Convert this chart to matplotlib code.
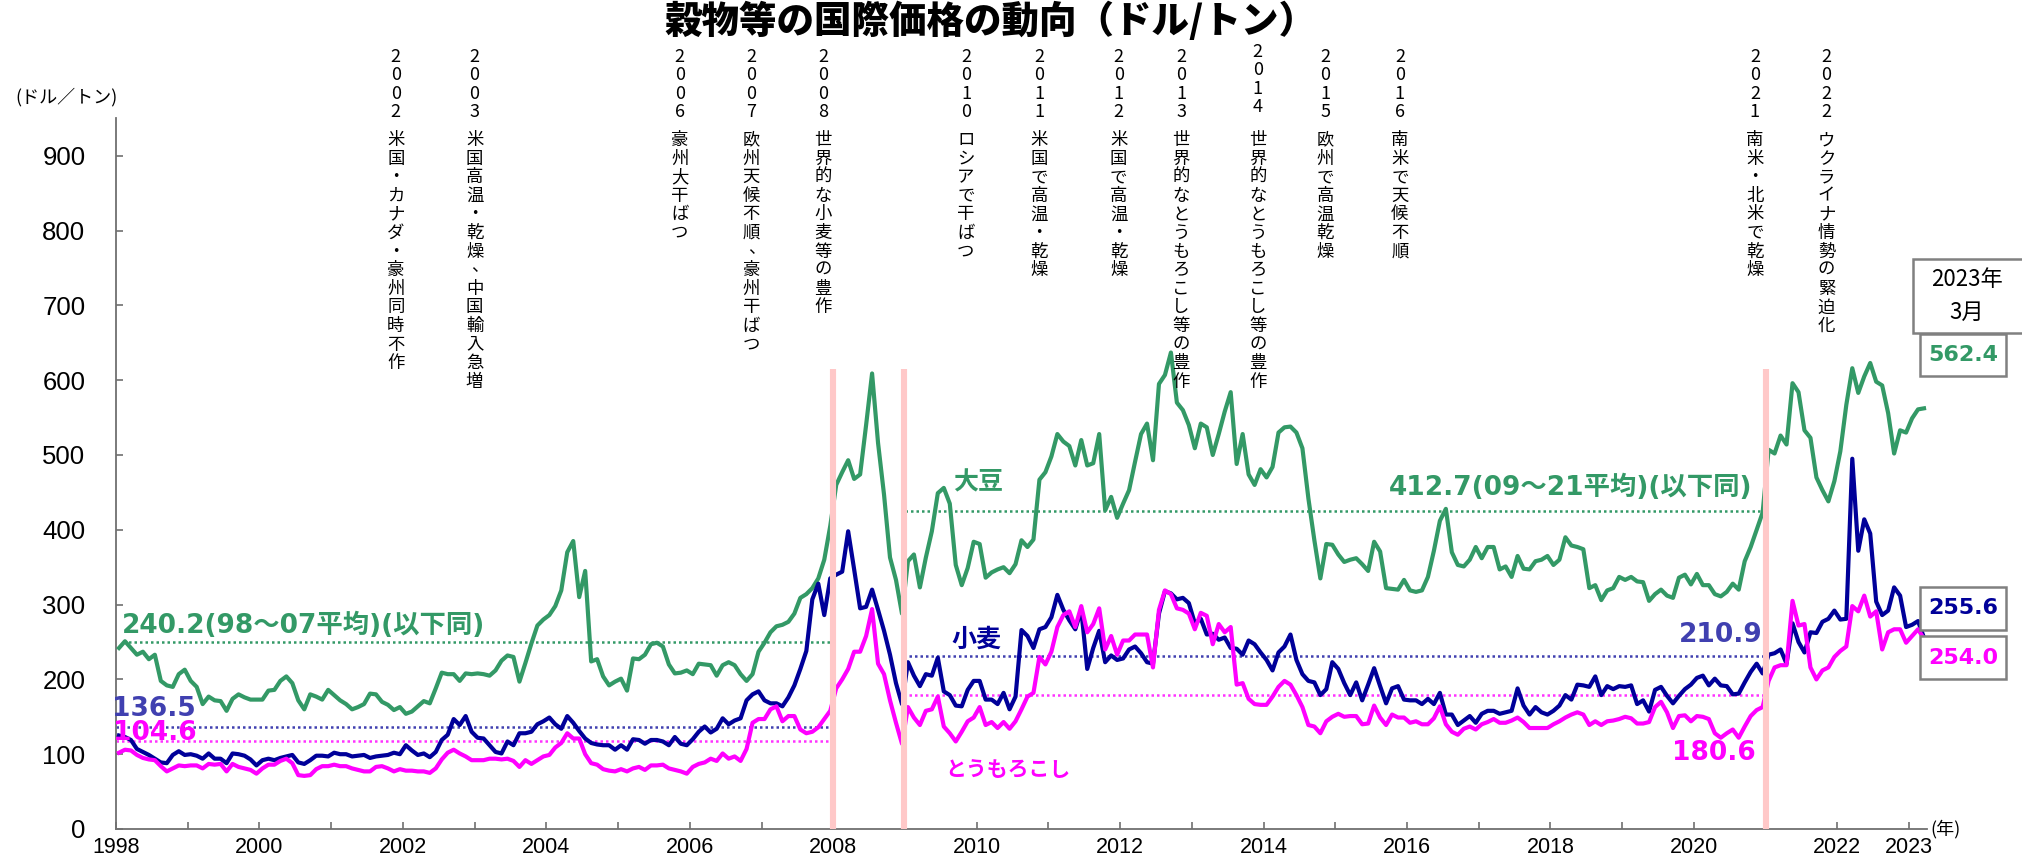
import matplotlib
matplotlib.use('Agg')
import matplotlib.pyplot as plt
import matplotlib.transforms as mtransforms
from matplotlib.patches import Rectangle
import numpy as np

plt.rcParams['font.family'] = ['Noto Sans CJK JP', 'DejaVu Sans']

# monthly prices (US$/t), Jan 1998 - Mar 2023, one row per year
soybean_by_year = [
    [242, 251, 242, 233, 237, 227, 233, 198, 192, 190, 207, 213],  # 1998
    [198, 190, 167, 177, 172, 171, 158, 174, 180, 176, 173, 173],
    [173, 185, 186, 198, 204, 195, 172, 160, 180, 177, 173, 186],  # 2000
    [179, 172, 167, 160, 163, 167, 181, 180, 170, 166, 159, 163],
    [154, 157, 164, 171, 168, 188, 209, 207, 207, 198, 208, 207],
    [208, 207, 205, 212, 225, 232, 230, 197, 222, 248, 272, 280],
    [286, 298, 319, 370, 385, 310, 345, 224, 227, 204, 192, 197],
    [201, 185, 228, 227, 233, 247, 249, 244, 220, 208, 209, 212],  # 2005
    [207, 221, 220, 219, 205, 219, 223, 219, 207, 198, 207, 237],
    [249, 263, 271, 273, 277, 288, 309, 314, 322, 335, 360, 405],
    [460, 477, 493, 468, 474, 540, 609, 516, 447, 363, 333, 288],
    [358, 367, 323, 363, 398, 449, 456, 435, 353, 326, 349, 384],
    [381, 336, 343, 347, 350, 342, 354, 386, 377, 387, 467, 477],  # 2010
    [498, 528, 518, 512, 486, 520, 486, 489, 528, 426, 444, 416],
    [435, 453, 491, 528, 542, 493, 595, 607, 637, 570, 560, 540],
    [509, 542, 537, 500, 528, 558, 584, 488, 528, 474, 460, 481],
    [470, 484, 530, 537, 538, 530, 509, 442, 386, 335, 381, 380],
    [367, 357, 360, 362, 354, 345, 384, 371, 322, 321, 320, 333],  # 2015
    [319, 317, 319, 337, 372, 412, 428, 370, 353, 351, 360, 377],
    [362, 377, 377, 347, 351, 337, 365, 348, 347, 358, 360, 365],
    [353, 360, 390, 379, 377, 374, 322, 326, 306, 319, 322, 337],
    [333, 337, 331, 330, 305, 314, 320, 312, 309, 336, 340, 327],
    [341, 326, 326, 314, 311, 317, 328, 320, 358, 377, 400, 423],  # 2020
    [507, 502, 526, 514, 596, 584, 533, 523, 470, 453, 438, 465],
    [505, 567, 616, 583, 605, 623, 598, 593, 556, 502, 533, 530],
    [549, 561, 562.4],
]
wheat_by_year = [
    [125, 123, 119, 107, 103, 99, 94, 89, 88, 99, 104, 99],  # 1998
    [100, 98, 94, 101, 94, 94, 88, 101, 100, 98, 93, 85],
    [92, 94, 92, 95, 97, 99, 89, 87, 92, 98, 98, 97],  # 2000
    [102, 100, 100, 97, 98, 99, 95, 97, 98, 99, 102, 100],
    [112, 105, 99, 101, 96, 103, 119, 126, 147, 139, 151, 130],
    [122, 121, 112, 103, 101, 117, 112, 128, 128, 130, 140, 144],
    [149, 140, 134, 151, 142, 131, 121, 115, 113, 112, 112, 106],
    [112, 106, 120, 119, 114, 119, 119, 117, 112, 123, 114, 112],  # 2005
    [120, 130, 137, 129, 134, 148, 140, 145, 148, 172, 180, 184],
    [172, 168, 168, 164, 176, 192, 214, 238, 307, 328, 286, 335],
    [340, 344, 398, 347, 295, 297, 320, 293, 265, 233, 195, 167],
    [223, 205, 191, 207, 205, 229, 184, 179, 165, 164, 186, 198],
    [198, 173, 173, 167, 182, 160, 177, 266, 258, 242, 267, 270],  # 2010
    [283, 313, 293, 279, 267, 293, 214, 242, 265, 223, 232, 226],
    [228, 240, 244, 235, 223, 221, 288, 318, 315, 307, 309, 302],
    [275, 281, 260, 261, 253, 256, 242, 241, 233, 252, 247, 236],
    [226, 212, 236, 244, 260, 226, 207, 198, 196, 179, 187, 223],
    [214, 195, 179, 196, 172, 193, 215, 191, 168, 188, 191, 173],  # 2015
    [172, 172, 167, 174, 167, 182, 153, 153, 139, 145, 151, 142],
    [154, 158, 158, 154, 156, 158, 188, 165, 153, 163, 156, 153],
    [158, 165, 179, 173, 193, 192, 190, 204, 179, 191, 187, 191],
    [190, 192, 167, 172, 157, 186, 190, 178, 168, 178, 187, 193],
    [202, 205, 192, 201, 192, 191, 180, 181, 196, 210, 221, 208],  # 2020
    [233, 235, 240, 221, 275, 250, 236, 263, 262, 277, 281, 292],
    [280, 281, 495, 372, 414, 395, 304, 286, 292, 323, 312, 270],
    [273, 278, 255.6],
]
corn_by_year = [
    [102, 106, 105, 99, 95, 93, 92, 84, 77, 81, 85, 84],  # 1998
    [85, 85, 81, 87, 86, 87, 77, 87, 83, 81, 79, 74],
    [81, 86, 86, 91, 94, 88, 72, 71, 72, 80, 84, 84],  # 2000
    [86, 84, 84, 81, 79, 77, 77, 83, 84, 81, 77, 80],
    [78, 78, 77, 77, 75, 81, 93, 102, 106, 101, 97, 92],
    [92, 92, 94, 94, 93, 94, 91, 83, 92, 87, 92, 97],
    [99, 109, 115, 128, 121, 121, 100, 88, 86, 80, 78, 77],
    [80, 77, 81, 83, 79, 85, 85, 86, 81, 79, 77, 74],  # 2005
    [83, 87, 89, 94, 91, 101, 94, 97, 91, 107, 142, 147],
    [147, 160, 164, 144, 151, 151, 133, 128, 130, 136, 147, 158],
    [188, 200, 214, 237, 237, 258, 294, 221, 207, 172, 142, 114],
    [163, 149, 139, 158, 160, 177, 137, 128, 117, 130, 144, 149],
    [163, 139, 143, 135, 143, 134, 144, 160, 177, 182, 230, 220],  # 2010
    [237, 270, 286, 291, 270, 298, 263, 274, 295, 240, 258, 233],
    [252, 252, 260, 260, 260, 216, 293, 319, 314, 295, 293, 288],
    [267, 289, 285, 247, 274, 263, 270, 193, 195, 174, 167, 166],
    [166, 177, 190, 198, 193, 179, 163, 139, 137, 128, 144, 150],
    [154, 150, 151, 151, 140, 141, 165, 149, 139, 153, 149, 149],  # 2015
    [142, 144, 140, 140, 148, 164, 140, 130, 126, 134, 137, 133],
    [140, 143, 147, 142, 142, 145, 149, 143, 135, 135, 135, 135],
    [140, 144, 149, 153, 156, 153, 139, 144, 139, 144, 145, 147],
    [150, 148, 141, 141, 143, 163, 170, 156, 135, 151, 152, 144],
    [151, 150, 147, 128, 122, 128, 133, 122, 137, 151, 159, 163],  # 2020
    [198, 216, 219, 219, 305, 272, 274, 216, 200, 212, 216, 230],
    [238, 244, 298, 291, 312, 284, 291, 240, 263, 267, 267, 249],
    [258, 267, 254.0],
]
soybean = sum(soybean_by_year, [])
wheat = sum(wheat_by_year, [])
corn = sum(corn_by_year, [])
months = 1998 + (np.arange(len(soybean)) + 0.5) / 12

# period averages: (start, end, level drawn, label)
avg_soy = [(1998.1, 2008.0, 250, '240.2(98～07平均)(以下同)'), (2009.0, 2021.0, 425, '412.7(09～21平均)(以下同)')]
avg_wheat = [(1998.0, 2008.0, 136.5, '136.5'), (2009.05, 2021.0, 231, '210.9')]
avg_corn = [(1998.0, 2008.0, 117, '104.6'), (2009.05, 2021.0, 179, '180.6')]
shock_years = [2008.0, 2008.98, 2021.0]

events = [
    (2001.9, '2002', '米国・カナダ・豪州同時不作'),
    (2003.0, '2003', '米国高温・乾燥、中国輸入急増'),
    (2005.86, '2006', '豪州大干ばつ'),
    (2006.86, '2007', '欧州天候不順、豪州干ばつ'),
    (2007.86, '2008', '世界的な小麦等の豊作'),
    (2009.85, '2010', 'ロシアで干ばつ'),
    (2010.87, '2011', '米国で高温・乾燥'),
    (2011.98, '2012', '米国で高温・乾燥'),
    (2012.85, '2013', '世界的なとうもろこし等の豊作'),
    (2013.92, '2014', '世界的なとうもろこし等の豊作'),
    (2014.86, '2015', '欧州で高温乾燥'),
    (2015.9, '2016', '南米で天候不順'),
    (2020.85, '2021', '南米・北米で乾燥'),
    (2021.85, '2022', 'ウクライナ情勢の緊迫化'),
]

GREEN = '#339966'
NAVY = '#000099'
MAGENTA = '#FF00FF'
SLATE = '#4040B0'
PINK = '#FFC8C8'
NUMFONT = ['DejaVu Sans', 'Noto Sans CJK JP']
TICKFONT = ['Liberation Sans', 'DejaVu Sans']

W, H = 2022, 868
fig = plt.figure(figsize=(W / 100, H / 100), dpi=100)
ax = fig.add_axes([116 / W, 1 - 829 / H, (1927 - 116) / W, (829 - 118.4) / H])

ax.plot(months, soybean, color=GREEN, lw=3.0, zorder=3)
ax.plot(months, wheat, color=NAVY, lw=3.0, zorder=3)
ax.plot(months, corn, color=MAGENTA, lw=3.0, zorder=3)

for (x0, x1, lev, _), c in zip(avg_soy + avg_wheat + avg_corn,
                               [GREEN] * 2 + [SLATE] * 2 + ['#FF33FF'] * 2):
    ax.plot([x0, x1], [lev, lev], color=c, lw=1.8, ls=(0, (1, 1.2)), zorder=2)

for x in shock_years:
    ax.plot([x, x], [0, 615], color=PINK, lw=4.4, zorder=5, solid_capstyle='butt')

ax.set_xlim(1998, 2023.25)
ax.set_ylim(0, 950)
for s in ['top', 'right']:
    ax.spines[s].set_visible(False)
for s in ['left', 'bottom']:
    ax.spines[s].set_color('#707070')
    ax.spines[s].set_linewidth(1.3)

years = np.arange(1998, 2024)
ax.set_xticks(years)
ax.set_xticklabels([str(y) if (y % 2 == 0 or y == 2023) else '' for y in years],
                   family=TICKFONT, fontsize=15.5)
ax.set_yticks(np.arange(0, 1000, 100))
ax.set_yticklabels([str(v) for v in range(0, 1000, 100)], family=TICKFONT, fontsize=18.5)
ax.tick_params(axis='x', direction='in', length=5, width=1.2, color='#707070', pad=6)
ax.tick_params(axis='y', direction='in', length=5, width=1.2, color='#707070', pad=22)

# average labels
ax.text(1998.08, 272, avg_soy[0][3], color=GREEN, fontsize=19, fontweight='bold',
        family=NUMFONT, ha='left', va='center')
ax.text(2020.82, 456, avg_soy[1][3], color=GREEN, fontsize=19, fontweight='bold',
        family=NUMFONT, ha='right', va='center')
ax.text(1997.95, 160, avg_wheat[0][3], color=SLATE, fontsize=19, fontweight='bold',
        family=NUMFONT, ha='left', va='center', zorder=6)
ax.text(2020.96, 260, avg_wheat[1][3], color=SLATE, fontsize=19, fontweight='bold',
        family=NUMFONT, ha='right', va='center')
ax.text(1997.96, 129, avg_corn[0][3], color=MAGENTA, fontsize=19, fontweight='bold',
        family=NUMFONT, ha='left', va='center', zorder=6)
ax.text(2020.86, 102, avg_corn[1][3], color=MAGENTA, fontsize=19, fontweight='bold',
        family=NUMFONT, ha='right', va='center')

# series names
ax.text(2010.02, 463, '大豆', color=GREEN, fontsize=18, fontweight='bold', ha='center', va='center')
ax.text(2009.99, 253, '小麦', color=NAVY, fontsize=18, fontweight='bold', ha='center', va='center')
ax.text(2010.44, 79, 'とうもろこし', color=MAGENTA, fontsize=15, fontweight='bold', ha='center', va='center')

ax.text(2023.3, 0, '(年)', fontsize=13, ha='left', va='center', clip_on=False)

# vertical event notes
trans = mtransforms.blended_transform_factory(ax.transData, fig.transFigure)
for x, yr, desc in events:
    top = 52 if yr == '2014' else 57
    for i, ch in enumerate(yr):
        ax.text(x, 1 - (top + 18.3 * i) / H, ch, transform=trans, ha='center', va='center',
                fontsize=13)
    for i, ch in enumerate(desc):
        t = trans
        if ch == '、':
            t = mtransforms.offset_copy(trans, fig=fig, x=5, y=4, units='dots')
        ax.text(x, 1 - (140 + 18.6 * i) / H, ch, transform=t, ha='center', va='center',
                fontsize=12.5)

fig.text(990 / W, 1 - 21 / H, '穀物等の国際価格の動向（ドル/トン）', fontsize=27,
         fontweight='black', ha='center', va='center')
fig.text(15 / W, 1 - 97 / H, '(ドル／トン)', fontsize=13, ha='left', va='center')

# latest-value boxes
def box(x0, y0, x1, y1):
    fig.patches.append(Rectangle((x0 / W, 1 - y1 / H), (x1 - x0) / W, (y1 - y0) / H,
                                 transform=fig.transFigure, facecolor='white',
                                 edgecolor='#808080', lw=1.8))

box(1913, 259, 2070, 333)
fig.text(1967 / W, 1 - 280 / H, '2023年', fontsize=16, ha='center', va='center')
fig.text(1967 / W, 1 - 312 / H, '3月', fontsize=16, ha='center', va='center')
for (y0, y1), val, c in zip([(334, 376), (587, 630), (636, 679)],
                            [soybean[-1], wheat[-1], corn[-1]], [GREEN, NAVY, MAGENTA]):
    box(1920, y0, 2006, y1)
    fig.text(1963 / W, 1 - (y0 + y1) / 2 / H, f'{val:.1f}', color=c, fontsize=16,
             fontweight='bold', family=NUMFONT, ha='center', va='center')

fig.savefig('out.png', dpi=100)
